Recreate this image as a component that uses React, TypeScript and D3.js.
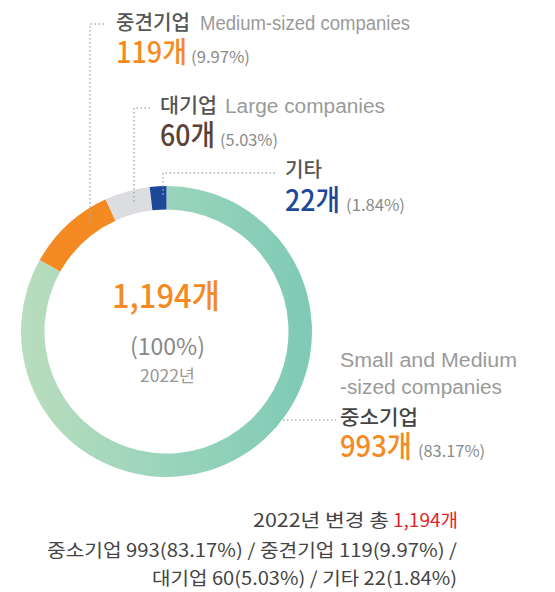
import React from "react";
import * as d3 from "d3";

const categories = ["중소기업", "중견기업", "대기업", "기타"];
const englishNames = ["Small and Medium-sized companies", "Medium-sized companies", "Large companies", ""];
const values = [993, 119, 60, 22];
const percents = ["83.17%", "9.97%", "5.03%", "1.84%"];
const total = 1194;
const year = "2022년";

const W = 555, H = 592;
const cx = 166.5, cy = 331.5, rOuter = 145.5, rInner = 122;
const FONT = "'Noto Sans CJK KR', 'Noto Sans', sans-serif";
const LATIN = "'Liberation Sans', Arial, sans-serif";
const NUM = "'Liberation Sans Narrow', 'Noto Sans CJK KR', sans-serif";
const colors = ["url(#smeGrad)", "#f58a22", "#dcdde0", "#1d4797"];

export default function App() {
  const pie = d3.pie<number>().sort(null).value((d) => d)(values);
  const arc = d3.arc<d3.PieArcDatum<number>>().innerRadius(rInner).outerRadius(rOuter);
  const dot = { stroke: "#a8a8a8", strokeWidth: 1.4, strokeDasharray: "1.4 2.6", fill: "none" };
  const T = (p: any) => <text fontFamily={FONT} lengthAdjust="spacingAndGlyphs" {...p} />;
  const fmt = d3.format(",");
  return (
    <svg width={W} height={H} style={{ position: "absolute", left: 0, top: 0 }}>
      <defs>
        <linearGradient id="smeGrad" gradientUnits="userSpaceOnUse" x1={-rOuter} x2={rOuter} y1={0} y2={0}>
          <stop offset="0%" stopColor="#b9ddbd" />
          <stop offset="50%" stopColor="#9ad4bc" />
          <stop offset="100%" stopColor="#7ecab5" />
        </linearGradient>
      </defs>
      <g transform={`translate(${cx},${cy})`}>
        {pie.map((p, i) => (
          <path key={i} d={arc(p) || ""} fill={colors[i]} />
        ))}
      </g>

      {/* leader lines */}
      <polyline points="104,24 90,24 90,225" {...dot} />
      <polyline points="150,108 134,108 134,203" {...dot} />
      <polyline points="275,173 163,173 163,196" {...dot} />
      <polyline points="283,420 336,420" {...dot} />

      {/* 중견기업 */}
      <T x={116} y={30} fontSize={20} fontWeight={500} fill="#555" textLength={74}>{categories[1]}</T>
      <T x={200} y={30} fontSize={20} fontFamily={LATIN} fill="#9a9a9a" textLength={210}>{englishNames[1]}</T>
      <T x={116} y={63} fontSize={29} fontWeight={500} fontFamily={NUM} fill="#f58a22" textLength={71}>{values[1]}<tspan fontFamily={FONT}>개</tspan></T>
      <T x={191} y={63} fontSize={16} fontFamily={NUM} fill="#8a8a8a" textLength={59}>({percents[1]})</T>

      {/* 대기업 */}
      <T x={160} y={113} fontSize={20} fontWeight={500} fill="#555" textLength={57}>{categories[2]}</T>
      <T x={225} y={113} fontSize={20} fontFamily={LATIN} fill="#9a9a9a" textLength={160}>{englishNames[2]}</T>
      <T x={160} y={146} fontSize={29} fontWeight={500} fontFamily={NUM} fill="#5b4236" textLength={55}>{values[2]}<tspan fontFamily={FONT}>개</tspan></T>
      <T x={220} y={146} fontSize={16} fontFamily={NUM} fill="#8a8a8a" textLength={58}>({percents[2]})</T>

      {/* 기타 */}
      <T x={285} y={177} fontSize={20} fontWeight={500} fill="#555" textLength={37}>{categories[3]}</T>
      <T x={285} y={211} fontSize={29} fontWeight={500} fontFamily={NUM} fill="#1d4797" textLength={55}>{values[3]}<tspan fontFamily={FONT}>개</tspan></T>
      <T x={346} y={211} fontSize={16} fontFamily={NUM} fill="#8a8a8a" textLength={59}>({percents[3]})</T>

      {/* center */}
      <T x={112} y={308} fontSize={33} fontWeight={500} fontFamily={NUM} fill="#f58a22" textLength={108}>{fmt(total)}<tspan fontFamily={FONT}>개</tspan></T>
      <T x={130} y={355} fontSize={23} fontFamily={NUM} fill="#888" textLength={75}>(100%)</T>
      <T x={140} y={382} fontSize={17} fontFamily={NUM} fill="#999" textLength={55}>2022<tspan fontFamily={FONT}>년</tspan></T>

      {/* 중소기업 */}
      <T x={340} y={367} fontSize={20} fontFamily={LATIN} fill="#9a9a9a" textLength={177}>Small and Medium</T>
      <T x={340} y={394} fontSize={20} fontFamily={LATIN} fill="#9a9a9a" textLength={162}>-sized companies</T>
      <T x={340} y={425} fontSize={20} fontWeight={500} fill="#444" textLength={78}>{categories[0]}</T>
      <T x={340} y={457} fontSize={30} fontWeight={500} fontFamily={NUM} fill="#f58a22" textLength={72}>{values[0]}<tspan fontFamily={FONT}>개</tspan></T>
      <T x={418} y={457} fontSize={16} fontFamily={NUM} fill="#8a8a8a" textLength={67}>({percents[0]})</T>

      {/* bottom summary */}
      <T x={253} y={527} fontSize={18} fill="#444" textLength={136}>{year} 변경 총</T>
      <T x={393} y={527} fontSize={18} fill="#e8202a" textLength={65}>{fmt(total)}개</T>
      <T x={47} y={557} fontSize={18} fill="#444" textLength={410}>
        {`${categories[0]} ${values[0]}(${percents[0]}) / ${categories[1]} ${values[1]}(${percents[1]}) /`}
      </T>
      <T x={152} y={585} fontSize={18} fill="#444" textLength={305}>
        {`${categories[2]} ${values[2]}(${percents[2]}) / ${categories[3]} ${values[3]}(${percents[3]})`}
      </T>
    </svg>
  );
}
